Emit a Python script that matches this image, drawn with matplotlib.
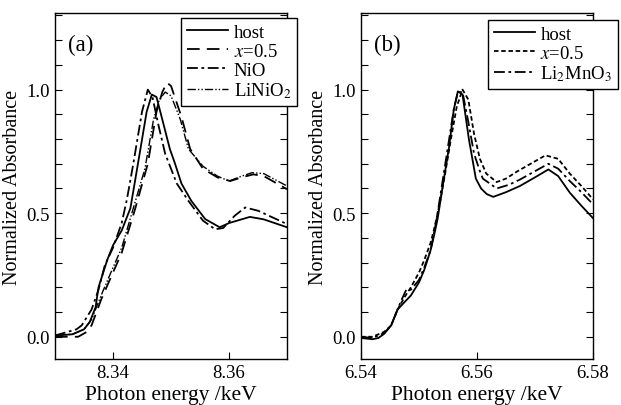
import matplotlib
matplotlib.use("Agg")
import matplotlib.pyplot as plt
from matplotlib.ticker import MultipleLocator, FormatStrFormatter

plt.rcParams["font.family"] = ["Liberation Serif", "DejaVu Serif"]
plt.rcParams["mathtext.fontset"] = "stix"

# ---- panel (a): Ni K-edge ----
a_host_x = [8.330, 8.333, 8.335, 8.336, 8.337, 8.3375, 8.339, 8.340, 8.3415, 8.343,
            8.3443, 8.3458, 8.3467, 8.3475, 8.3486, 8.3498, 8.3507, 8.3518, 8.3535,
            8.3559, 8.3584, 8.360, 8.3636, 8.366, 8.370]
a_host_y = [0.005, 0.01, 0.03, 0.06, 0.12, 0.20, 0.31, 0.37, 0.43, 0.52,
            0.70, 0.91, 0.98, 0.97, 0.87, 0.76, 0.70, 0.62, 0.55,
            0.476, 0.443, 0.46, 0.485, 0.475, 0.443]

a_x05_x = [8.330, 8.334, 8.3355, 8.3363, 8.338, 8.340, 8.3415, 8.3438, 8.346, 8.3475,
           8.3485, 8.3493, 8.350, 8.3518, 8.3533, 8.3555, 8.358, 8.3602, 8.3622,
           8.3642, 8.366, 8.370]
a_x05_y = [0.0, 0.0, 0.02, 0.046, 0.153, 0.26, 0.34, 0.516, 0.70, 0.91,
           0.99, 1.028, 1.015, 0.89, 0.76, 0.68, 0.645, 0.63, 0.645,
           0.657, 0.65, 0.597]

a_nio_x = [8.330, 8.3337, 8.3346, 8.3363, 8.3375, 8.3386, 8.340, 8.3415, 8.3424, 8.3435,
           8.345, 8.346, 8.3468, 8.3478, 8.349, 8.351, 8.353, 8.3555, 8.3576,
           8.359, 8.361, 8.3628, 8.365, 8.370]
a_nio_y = [0.005, 0.03, 0.046, 0.11, 0.19, 0.29, 0.36, 0.46, 0.556, 0.70,
           0.91, 1.0, 0.97, 0.86, 0.74, 0.62, 0.55, 0.47, 0.435,
           0.44, 0.49, 0.523, 0.51, 0.456]

a_lnio_x = [8.330, 8.333, 8.335, 8.3363, 8.338, 8.340, 8.3415, 8.343, 8.3455, 8.347,
            8.348, 8.349, 8.350, 8.3516, 8.353, 8.3555, 8.358, 8.360, 8.3622,
            8.364, 8.366, 8.370]
a_lnio_y = [0.005, 0.01, 0.03, 0.07, 0.17, 0.28, 0.36, 0.48, 0.68, 0.88,
            0.96, 0.99, 0.975, 0.88, 0.76, 0.69, 0.65, 0.63, 0.65,
            0.664, 0.66, 0.61]

# ---- panel (b): Mn K-edge ----
b_host_x = [6.540, 6.542, 6.543, 6.544, 6.5452, 6.5463, 6.5475, 6.5486, 6.550, 6.5509,
            6.552, 6.5526, 6.5532, 6.5543, 6.5552, 6.556, 6.5567, 6.5575, 6.5586,
            6.5598, 6.5607, 6.5617, 6.5628, 6.565, 6.5674, 6.570, 6.5723, 6.574,
            6.576, 6.578, 6.580]
b_host_y = [-0.005, -0.01, -0.005, 0.012, 0.046, 0.11, 0.14, 0.167, 0.22, 0.27,
            0.35, 0.41, 0.476, 0.64, 0.77, 0.92, 0.993, 0.98, 0.80,
            0.64, 0.60, 0.577, 0.566, 0.585, 0.61, 0.645, 0.677, 0.65,
            0.583, 0.53, 0.48]

b_x05_x = [6.540, 6.542, 6.544, 6.5452, 6.5463, 6.5475, 6.5486, 6.550, 6.5509, 6.552,
           6.5526, 6.5535, 6.5545, 6.5555, 6.5565, 6.5575, 6.5585, 6.5595, 6.5605,
           6.5616, 6.5634, 6.565, 6.567, 6.570, 6.5718, 6.574, 6.576, 6.578, 6.580]
b_x05_y = [0.0, 0.0, 0.02, 0.046, 0.11, 0.16, 0.20, 0.26, 0.31, 0.38,
           0.435, 0.53, 0.66, 0.80, 0.93, 1.0, 0.96, 0.82, 0.72,
           0.66, 0.626, 0.64, 0.67, 0.71, 0.734, 0.72, 0.66, 0.61, 0.556]

b_lmo_x = [6.540, 6.542, 6.544, 6.5452, 6.5463, 6.547, 6.5478, 6.5486, 6.550, 6.5509,
           6.552, 6.553, 6.554, 6.555, 6.556, 6.5567, 6.5575, 6.5585, 6.5595,
           6.5605, 6.561, 6.5634, 6.5655, 6.5674, 6.570, 6.5723, 6.574, 6.576,
           6.578, 6.580]
b_lmo_y = [0.0, -0.005, 0.015, 0.046, 0.11, 0.15, 0.19, 0.19, 0.23, 0.28,
           0.35, 0.47, 0.62, 0.77, 0.92, 0.99, 0.99, 0.87, 0.74,
           0.67, 0.64, 0.60, 0.615, 0.636, 0.67, 0.70, 0.68, 0.63,
           0.585, 0.536]

lw = 1.3
fs = 13.5

fig = plt.figure(figsize=(6.21, 4.06), dpi=100)
ax1 = fig.add_axes([55 / 621, 46 / 406, 232 / 621, 346 / 406])
ax2 = fig.add_axes([361 / 621, 46 / 406, 232 / 621, 346 / 406])

ax1.plot(a_host_x, a_host_y, color="k", lw=lw, label="host")
ax1.plot(a_x05_x, a_x05_y, color="k", lw=lw, dashes=(7, 4), label="$x$=0.5")
ax1.plot(a_nio_x, a_nio_y, color="k", lw=lw, dashes=(6, 2, 1.5, 2), label="NiO")
ax1.plot(a_lnio_x, a_lnio_y, color="k", lw=1.0,
         dashes=(6, 1.5, 1, 1.5, 1, 1.5), label="LiNiO$_2$")

ax2.plot(b_host_x, b_host_y, color="k", lw=lw, label="host")
ax2.plot(b_x05_x, b_x05_y, color="k", lw=lw, dashes=(2.5, 1.5), label="$x$=0.5")
ax2.plot(b_lmo_x, b_lmo_y, color="k", lw=lw, dashes=(6, 2, 1.5, 2), label="Li$_2$MnO$_3$")

for ax, xlim, xt in [(ax1, (8.33, 8.37), [8.34, 8.36]),
                     (ax2, (6.54, 6.58), [6.54, 6.56, 6.58])]:
    ax.set_xlim(*xlim)
    ax.set_ylim(-0.09, 1.31)
    ax.set_xticks(xt)
    ax.set_yticks([0.0, 0.5, 1.0])
    ax.yaxis.set_minor_locator(MultipleLocator(0.1))
    ax.tick_params(which="both", direction="in", right=True, length=5, width=0.8,
                   labelsize=fs)
    ax.xaxis.set_major_formatter(FormatStrFormatter("%.2f"))
    ax.yaxis.set_major_formatter(FormatStrFormatter("%.1f"))
    ax.set_xlabel("Photon energy /keV", fontsize=15.5, labelpad=3)
    ax.set_ylabel("Normalized Absorbance", fontsize=14.5, labelpad=3)
    for s in ax.spines.values():
        s.set_linewidth(1.0)

ax1.text(0.055, 0.94, "(a)", transform=ax1.transAxes, fontsize=fs + 3, va="top")
ax2.text(0.055, 0.94, "(b)", transform=ax2.transAxes, fontsize=fs + 3, va="top")

leg_kw = dict(loc="upper right", fontsize=fs, frameon=True, fancybox=False,
              edgecolor="k", framealpha=1, handlelength=2.2, handletextpad=0.3,
              labelspacing=0.1, borderpad=0.3, borderaxespad=0)
l1 = ax1.legend(bbox_to_anchor=(1.043, 0.986), **leg_kw)
l2 = ax2.legend(bbox_to_anchor=(1.108, 0.98), **leg_kw)
for l in (l1, l2):
    l.get_frame().set_linewidth(1.0)

fig.savefig("out.png", dpi=100)
